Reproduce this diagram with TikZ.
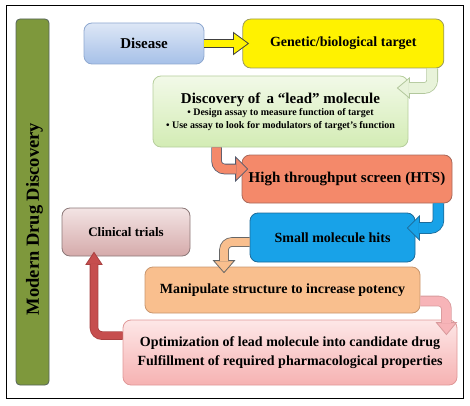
\documentclass[tikz,border=0pt]{standalone}
\usepackage{fontspec}
\setmainfont{Liberation Serif}
\usepackage{xcolor}
\usetikzlibrary{positioning}

\definecolor{barfill}{HTML}{7E983C}
\definecolor{barline}{HTML}{56645A}
\definecolor{diseasetop}{HTML}{DDE7F6}
\definecolor{diseasebot}{HTML}{A6C0E8}
\definecolor{diseaseline}{HTML}{8EA8D0}
\definecolor{targetline}{HTML}{9A9A5A}
\definecolor{leadtop}{HTML}{F2F9E8}
\definecolor{leadbot}{HTML}{D3ECB4}
\definecolor{leadline}{HTML}{B6CE9C}
\definecolor{htsfill}{HTML}{F4896A}
\definecolor{htsline}{HTML}{A8685A}
\definecolor{hitsfill}{HTML}{18A2E8}
\definecolor{hitsline}{HTML}{1D6A98}
\definecolor{manipfill}{HTML}{F9BF8E}
\definecolor{manipline}{HTML}{C8966E}
\definecolor{optimtop}{HTML}{FDE7E7}
\definecolor{optimbot}{HTML}{F6B2B2}
\definecolor{optimline}{HTML}{E09898}
\definecolor{clintop}{HTML}{F3E4E4}
\definecolor{clinbot}{HTML}{D5AAAA}
\definecolor{clinline}{HTML}{8C7878}
\definecolor{greenarrow}{HTML}{E8F3DA}
\definecolor{greenarrowline}{HTML}{B2C79C}
\definecolor{slateline}{HTML}{505A6E}
\definecolor{pinkarrow}{HTML}{F7B4B8}
\definecolor{pinkarrowline}{HTML}{D89A9C}
\definecolor{redarrow}{HTML}{C64E4E}
\definecolor{redarrowline}{HTML}{A84040}

% arrow head: tip, angle, length, width, style
\newcommand{\tiphead}[5]{%
  \begin{scope}[shift={(#1)}, rotate=#2]
    \draw[#5] (0,0) -- (-#3,#4/2) -- (-#3,-#4/2) -- cycle;
  \end{scope}}

\begin{document}
\begin{tikzpicture}[
  x=1pt, y=1pt,
  box/.style={draw, rounded corners=8pt, line width=0.8pt, align=center, inner sep=2pt,
    font=\bfseries\fontsize{14}{19}\selectfont},
  shaft/.style={line width=0.8pt, double distance=#1pt, rounded corners=8pt},
  head/.style={line width=0.8pt, line join=miter}
]
\useasboundingbox (0,0) rectangle (470,405);
\draw[line width=1pt] (6,7) rectangle (463,399);

% side bar
\node[draw=barline, fill=barfill, line width=0.8pt, rounded corners=4pt,
  minimum width=33pt, minimum height=366pt] (bar) at (32.5,203) {};
\node[rotate=90, font=\bfseries\fontsize{18.5}{20}\selectfont] (bartext) at (34.5,186) {Modern Drug Discovery};

% boxes
\node[box, top color=diseasetop, bottom color=diseasebot, draw=diseaseline,
  minimum width=120pt, minimum height=41pt, font=\bfseries\fontsize{15}{18}\selectfont] (disease) at (144,361.5) {Disease};
\node[box, fill=yellow, draw=targetline, minimum width=201pt, minimum height=49pt,
  right=38pt of disease] (target) {Genetic/biological target};
\node[box, top color=leadtop, bottom color=leadbot, draw=leadline,
  minimum width=255pt, minimum height=71pt, font=\bfseries\fontsize{10}{13}\selectfont] (lead) at (280.5,293.5)
  {{\fontsize{15}{15}\selectfont Discovery of\, a “lead” molecule}\\[-1pt]
   \textbullet\ Design assay to measure function of target\\
   \textbullet\ Use assay to look for modulators of target’s function};
\node[box, fill=htsfill, draw=htsline, minimum width=210pt, minimum height=48pt,
  font=\bfseries\fontsize{15}{18}\selectfont] (hts) at (347,226) {High throughput screen (HTS)};
\node[box, fill=hitsfill, draw=hitsline, minimum width=165pt, minimum height=49pt] (hits) at (332.5,167.5) {Small molecule hits};
\node[box, fill=manipfill, draw=manipline, minimum width=275pt, minimum height=46pt] (manip) at (282.5,115)
  {Manipulate structure to increase potency};
\node[box, top color=optimtop, bottom color=optimbot, draw=optimline,
  minimum width=334pt, minimum height=65pt] (optim) at (290,52.5)
  {Optimization of lead molecule into candidate drug\\Fulfillment of required pharmacological properties};
\node[box, top color=clintop, bottom color=clinbot, draw=clinline,
  minimum width=128pt, minimum height=48pt, font=\bfseries\fontsize{13}{16}\selectfont] (clinical) at (126,173) {Clinical trials};

% arrows
\coordinate (dttip) at ([xshift=6pt]target.west |- disease.east);
\tiphead{dttip}{0}{15}{22}{head, fill=yellow, draw=black!75}
\draw[shaft=7, draw=black!75, double=yellow] (disease.east) -- ([xshift=-14.5pt]dttip);

\coordinate (tltip) at ([xshift=-11pt, yshift=23.5pt]lead.east);
\tiphead{tltip}{180}{12}{20}{head, fill=greenarrow, draw=greenarrowline}
\draw[shaft=10, draw=greenarrowline, double=greenarrow] ([xshift=-12pt]target.south east) |- ([xshift=11.5pt]tltip);

\coordinate (lhtip) at ([xshift=6pt, yshift=10pt]hts.west);
\tiphead{lhtip}{0}{12}{24}{head, fill=htsfill, draw=slateline}
\draw[shaft=9, draw=slateline, double=htsfill] ([xshift=64pt]lead.south west) |- ([xshift=-11.5pt]lhtip);

\coordinate (hhtip) at ([xshift=-8pt, yshift=9.5pt]hits.east);
\tiphead{hhtip}{180}{12}{24}{head, fill=hitsfill, draw=hitsline}
\draw[shaft=10, draw=hitsline, double=hitsfill] ([xshift=-14pt]hts.south east) |- ([xshift=11.5pt]hhtip);

\coordinate (hmtip) at ([xshift=-58.5pt, yshift=-6pt]manip.north);
\tiphead{hmtip}{-90}{12}{21}{head, fill=manipfill, draw=black!60}
\draw[shaft=8, draw=black!60, double=manipfill] ([yshift=-4.5pt]hits.west) -| ([yshift=11.5pt]hmtip);

\coordinate (motip) at ([xshift=-11pt, yshift=-15pt]optim.north east);
\tiphead{motip}{-90}{12}{20}{head, fill=pinkarrow, draw=pinkarrowline}
\draw[shaft=9, draw=pinkarrowline, double=pinkarrow] ([yshift=-11pt]manip.east) -| ([yshift=11.5pt]motip);

\coordinate (octip) at ([xshift=-32pt, yshift=4pt]clinical.south);
\tiphead{octip}{90}{12}{16}{head, fill=redarrow, draw=redarrowline}
\draw[shaft=7, draw=redarrowline, double=redarrow] ([yshift=-16pt]optim.north west) -| ([yshift=-11.5pt]octip);
\end{tikzpicture}
\end{document}
